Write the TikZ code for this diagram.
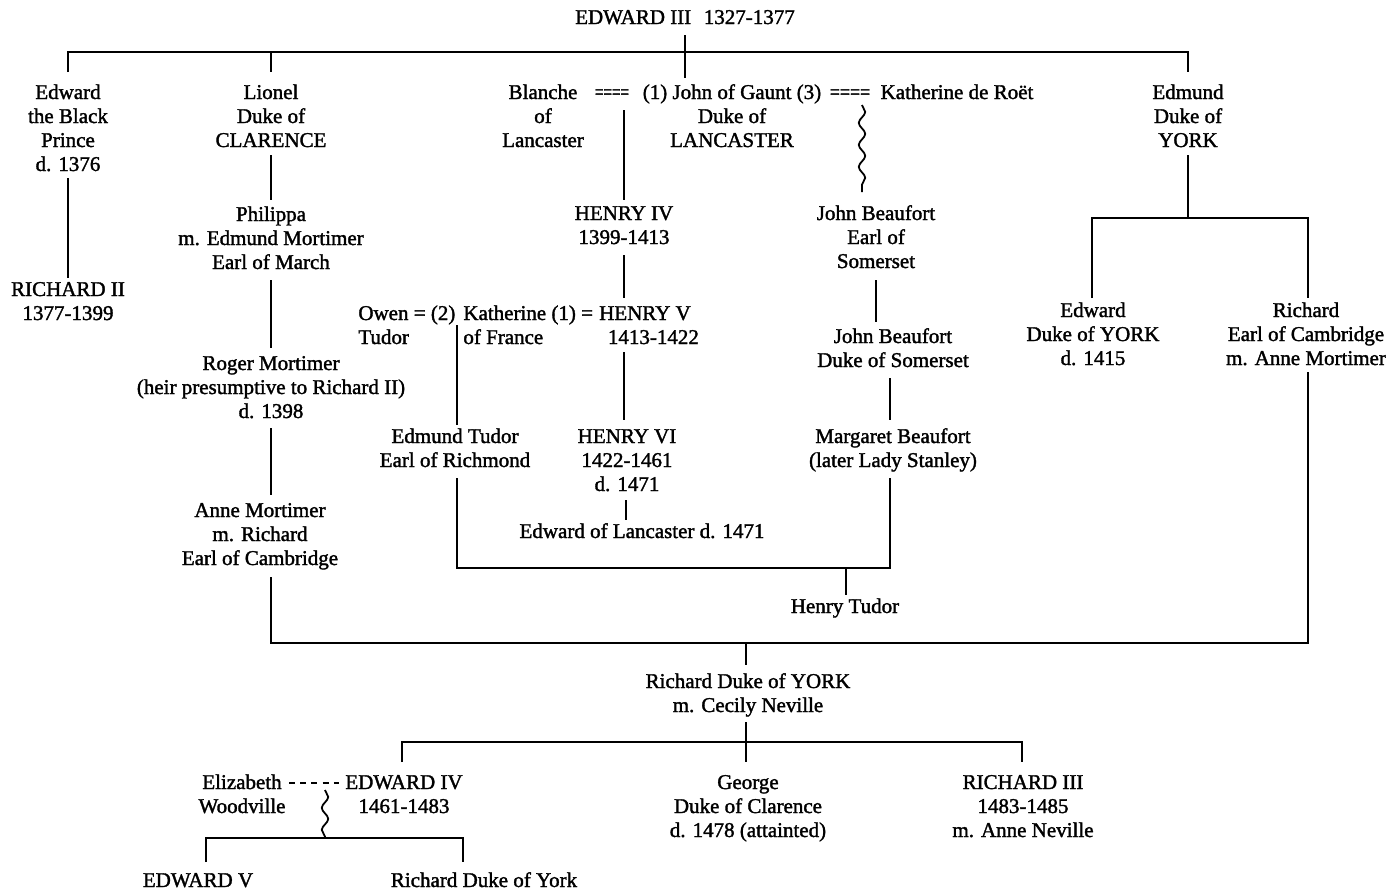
\documentclass[tikz,border=0pt]{standalone}
\usepackage{graphicx}
\usepackage{fontspec}
\setmainfont{Liberation Serif}[RawFeature={embolden=1.6}]
\usetikzlibrary{decorations.pathmorphing}
\begin{document}
\begin{tikzpicture}[x=0.5pt,y=-0.5pt,
  p/.style={align=center, inner sep=2pt, anchor=base, font=\fontsize{10.5}{12}\selectfont},
  pl/.style={align=left, inner sep=0pt, anchor=base west, font=\fontsize{10.5}{12}\selectfont},
  ln/.style={line width=0.9pt},
  wavy/.style={line width=0.9pt, decorate, decoration={snake, segment length=11pt, amplitude=1.6pt}},
  marr/.style={line width=0.9pt, dash pattern=on 3pt off 2.6pt}]
\useasboundingbox (0,0) rectangle (1389,889);
% nodes (anchor = baseline of the last line)
\node[p] (e3) at (685,24) {EDWARD III\hspace{0.6em}1327-1377};
\node[p] (bp) at (68,171) {Edward\\the Black\\Prince\\d. 1376};
\node[p] (r2) at (68,320) {RICHARD II\\1377-1399};
\node[p] (lio) at (271,147) {Lionel\\Duke of\\CLARENCE};
\node[p] (phil) at (271,269) {Philippa\\m. Edmund Mortimer\\Earl of March};
\node[p] (roger) at (271,418) {Roger Mortimer\\(heir presumptive to Richard II)\\d. 1398};
\node[p] (anne) at (260,565) {Anne Mortimer\\m. Richard\\Earl of Cambridge};
\node[p] (bl) at (543,147) {Blanche\\of\\Lancaster};
\node[p] (eq1) at (612,99) {\scalebox{0.72}[1]{====}};
\node[p] (gaunt) at (732,147) {(1) John of Gaunt (3)\\Duke of\\LANCASTER};
\node[p] (eq2) at (850,99) {\scalebox{0.85}[1]{====}};
\node[p] (kat) at (957,99) {Katherine de Ro\"et};
\node[p] (edm) at (1188,147) {Edmund\\Duke of\\YORK};
\node[p] (h4) at (624,244) {HENRY IV\\1399-1413};
\node[pl] (owen) at (358,344) {Owen = (2)\\Tudor};
\node[pl] (kath) at (463,344) {Katherine (1) =\\of France};
\node[p] (h5) at (645,344) {HENRY V\\\hspace*{0.8em}1413-1422};
\node[p] (et) at (455,467) {Edmund Tudor\\Earl of Richmond};
\node[p] (h6) at (627,491) {HENRY VI\\1422-1461\\d. 1471};
\node[p] (eol) at (642,538) {Edward of Lancaster d. 1471};
\node[p] (jb1) at (876,268) {John Beaufort\\Earl of\\Somerset};
\node[p] (jb2) at (893,367) {John Beaufort\\Duke of Somerset};
\node[p] (mb) at (893,467) {Margaret Beaufort\\(later Lady Stanley)};
\node[p] (ht) at (845,613) {Henry Tudor};
\node[p] (edy) at (1093,365) {Edward\\Duke of YORK\\d. 1415};
\node[p] (rec) at (1306,365) {Richard\\Earl of Cambridge\\m. Anne Mortimer};
\node[p] (rdy) at (748,712) {Richard Duke of YORK\\m. Cecily Neville};
\node[p] (ew) at (242,813) {Elizabeth\\Woodville};
\node[p] (e4) at (404,813) {EDWARD IV\\1461-1483};
\node[p] (geo) at (748,837) {George\\Duke of Clarence\\d. 1478 (attainted)};
\node[p] (r3) at (1023,837) {RICHARD III\\1483-1485\\m. Anne Neville};
\node[p] (e5) at (198,887) {EDWARD V};
\node[p] (rdy2) at (484,887) {Richard Duke of York};
% junction coordinates
\coordinate (b1) at (685,52);
\coordinate (bg) at (624,110);
\coordinate (kt) at (457,325);
\coordinate (b5) at (846,568);
\coordinate (b3) at (746,643);
\coordinate (b4) at (746,742);
\coordinate (b2) at (1188,218);
\coordinate (b6) at (325,838);
% top generation
\draw[ln] (685,35) -- (685,78);
\draw[ln] (68,72) -- (68,52) -- (1188,52) -- (1188,72);
\draw[ln] (271,52) -- (271,72);
% Black Prince line
\draw[ln] (68,178) -- (68,278);
% Clarence line
\draw[ln] (271,155) -- (271,200);
\draw[ln] (271,280) -- (271,348);
\draw[ln] (271,428) -- (271,495);
\draw[ln] (271,577) -- (271,643) -- (1308,643) -- (1308,372);
\draw[ln] (b3) -- (746,665);
% Lancaster
\draw[ln] (bg) -- (624,200);
\draw[ln] (624,255) -- (624,298);
\draw[ln] (624,352) -- (624,420);
\draw[ln] (626,500) -- (626,520);
\draw[ln] (kt) -- (457,425);
\draw[ln] (457,478) -- (457,568) -- (890,568) -- (890,478);
\draw[ln] (b5) -- (846,595);
% Beaufort
\draw[wavy] (862,105) -- (862,192);
\draw[ln] (876,280) -- (876,322);
\draw[ln] (890,378) -- (890,420);
% York
\draw[ln] (1188,155) -- (b2);
\draw[ln] (1092,298) -- (1092,218) -- (1308,218) -- (1308,298);
% Richard Duke of York children
\draw[ln] (746,722) -- (b4);
\draw[ln] (402,762) -- (402,742) -- (1022,742) -- (1022,762);
\draw[ln] (b4) -- (746,762);
% Edward IV
\draw[marr] (289,783) -- (339,783);
\draw[wavy] (325,790) -- (b6);
\draw[ln] (206,862) -- (206,838) -- (463,838) -- (463,862);
\end{tikzpicture}
\end{document}
